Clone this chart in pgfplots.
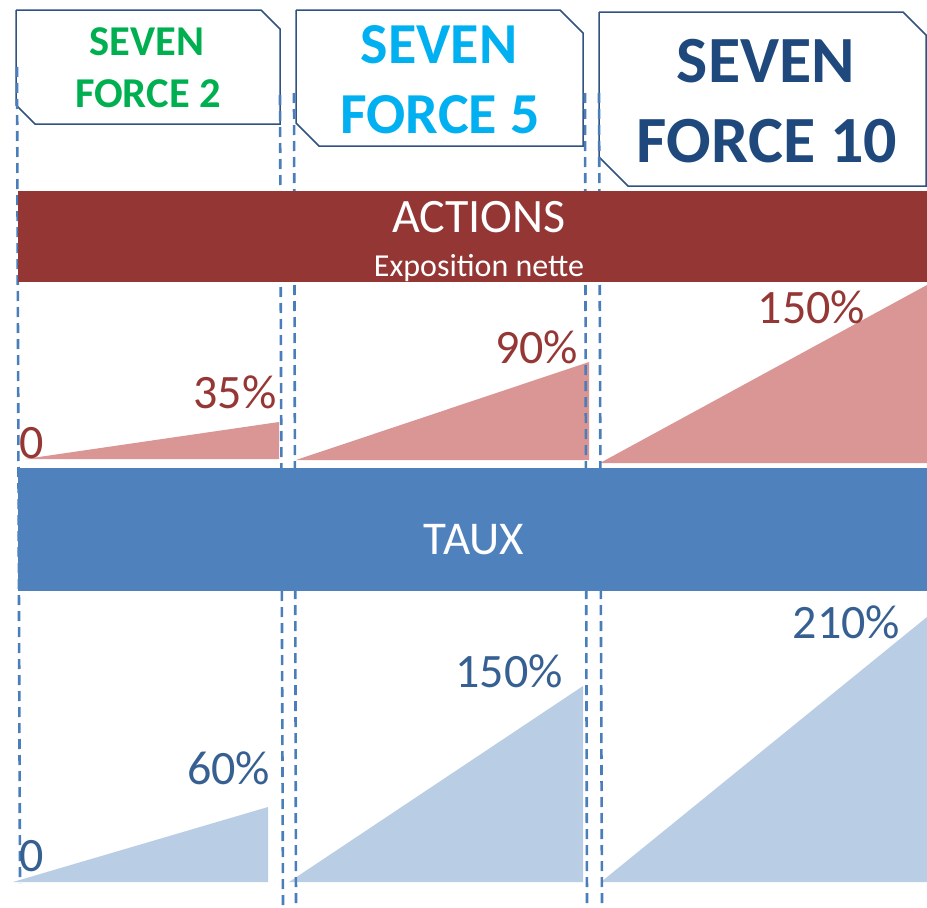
\documentclass[border=0pt]{standalone}
\usepackage{pgfplots}
\pgfplotsset{compat=1.18}
\usepackage{fontspec}
\setmainfont{Carlito}
\definecolor{bandred}{HTML}{943634}
\definecolor{trired}{HTML}{D99694}
\definecolor{txtred}{HTML}{953735}
\definecolor{bandblue}{HTML}{4F81BD}
\definecolor{triblue}{HTML}{B9CDE5}
\definecolor{txtblue}{HTML}{376092}
\definecolor{sfgreen}{HTML}{00B050}
\definecolor{sfcyan}{HTML}{00B0F0}
\definecolor{sfnavy}{HTML}{1F497D}
\definecolor{boxline}{HTML}{2F5283}
\definecolor{dashblue}{HTML}{4A7EBB}
\begin{document}
\begin{tikzpicture}
\begin{axis}[width=927pt,height=906pt,scale only axis,
  xmin=0,xmax=927,ymin=0,ymax=906,y dir=reverse,
  axis lines=none,clip=false]
% bounding frame (invisible)
\addplot[draw=none] coordinates {(0,0) (927,906)};
% header boxes
\addplot[boxline,line width=1.5pt,line join=miter] coordinates {(16,10) (261,10) (280,29) (280,124) (35,124) (16,105) (16,10)};
\addplot[boxline,line width=1.5pt,line join=miter] coordinates {(296,10) (560,10) (583,33) (583,146) (319,146) (296,123) (296,10)};
\addplot[boxline,line width=1.5pt,line join=miter] coordinates {(599,12) (903,12) (926,35) (926,186) (628,186) (599,157) (599,12)};
% red triangles
\addplot[fill=trired,draw=none] coordinates {(25,459) (279,422) (279,459)};
\addplot[fill=trired,draw=none] coordinates {(296,460) (589,362) (589,460)};
\addplot[fill=trired,draw=none] coordinates {(600,463) (927,285) (927,463)};
% blue triangles
\addplot[fill=triblue,draw=none] coordinates {(13,882) (268,807) (268,882)};
\addplot[fill=triblue,draw=none] coordinates {(289,882) (583,686) (583,882)};
\addplot[fill=triblue,draw=none] coordinates {(601,882) (927,617) (927,882)};
% dashed guides
\addplot[dashblue,line width=2.6pt,dash pattern=on 10pt off 6pt] coordinates {(17,67) (20,883)};
\addplot[dashblue,line width=2.6pt,dash pattern=on 10pt off 6pt] coordinates {(280,95) (283,906)};
\addplot[dashblue,line width=2.6pt,dash pattern=on 10pt off 6pt] coordinates {(294,93) (296,906)};
\addplot[dashblue,line width=2.6pt,dash pattern=on 10pt off 6pt] coordinates {(585,93) (587,906)};
\addplot[dashblue,line width=2.6pt,dash pattern=on 10pt off 6pt] coordinates {(599,93) (602,906)};
% bands
\addplot[fill=bandred,draw=none] coordinates {(18,191) (927,191) (927,282) (18,282)};
\addplot[fill=bandblue,draw=none] coordinates {(18,468) (927,468) (927,591) (18,591)};
% header text
\node[anchor=base,text=sfgreen,font=\fontsize{42.5}{42}\selectfont\bfseries,inner sep=0pt] at (axis cs:147,55) {SEVEN};
\node[anchor=base,text=sfgreen,font=\fontsize{42.5}{42}\selectfont\bfseries,inner sep=0pt] at (axis cs:148,107) {FORCE 2};
\node[anchor=base,text=sfcyan,font=\fontsize{58}{58}\selectfont\bfseries,inner sep=0pt] at (axis cs:439,63) {SEVEN};
\node[anchor=base,text=sfcyan,font=\fontsize{58}{58}\selectfont\bfseries,inner sep=0pt] at (axis cs:440,133) {FORCE 5};
\node[anchor=base,text=sfnavy,font=\fontsize{66}{66}\selectfont\bfseries,inner sep=0pt] at (axis cs:766,82) {SEVEN};
\node[anchor=base,text=sfnavy,font=\fontsize{66}{66}\selectfont\bfseries,inner sep=0pt] at (axis cs:767,162) {FORCE 10};
% band text
\node[anchor=base,text=white,font=\fontsize{48}{48}\selectfont,inner sep=0pt] at (axis cs:479,232) {ACTIONS};
\node[anchor=base,text=white,font=\fontsize{32}{32}\selectfont,inner sep=0pt] at (axis cs:479,276) {Exposition nette};
\node[anchor=base,text=white,font=\fontsize{47}{47}\selectfont,inner sep=0pt] at (axis cs:474,554) {TAUX};
% value labels
\node[anchor=base,text=txtred,font=\fontsize{48}{48}\selectfont,inner sep=0pt] at (axis cs:31.5,458) {0};
\node[anchor=base,text=txtred,font=\fontsize{48}{48}\selectfont,inner sep=0pt] at (axis cs:235,408) {35\%};
\node[anchor=base,text=txtred,font=\fontsize{48}{48}\selectfont,inner sep=0pt] at (axis cs:536.5,363) {90\%};
\node[anchor=base,text=txtred,font=\fontsize{48}{48}\selectfont,inner sep=0pt] at (axis cs:811.5,323) {150\%};
\node[anchor=base,text=txtblue,font=\fontsize{48}{48}\selectfont,inner sep=0pt] at (axis cs:32,871) {0};
\node[anchor=base,text=txtblue,font=\fontsize{48}{48}\selectfont,inner sep=0pt] at (axis cs:228.5,784) {60\%};
\node[anchor=base,text=txtblue,font=\fontsize{48}{48}\selectfont,inner sep=0pt] at (axis cs:509,687) {150\%};
\node[anchor=base,text=txtblue,font=\fontsize{48}{48}\selectfont,inner sep=0pt] at (axis cs:846.5,638) {210\%};
\end{axis}
\end{tikzpicture}
\end{document}
